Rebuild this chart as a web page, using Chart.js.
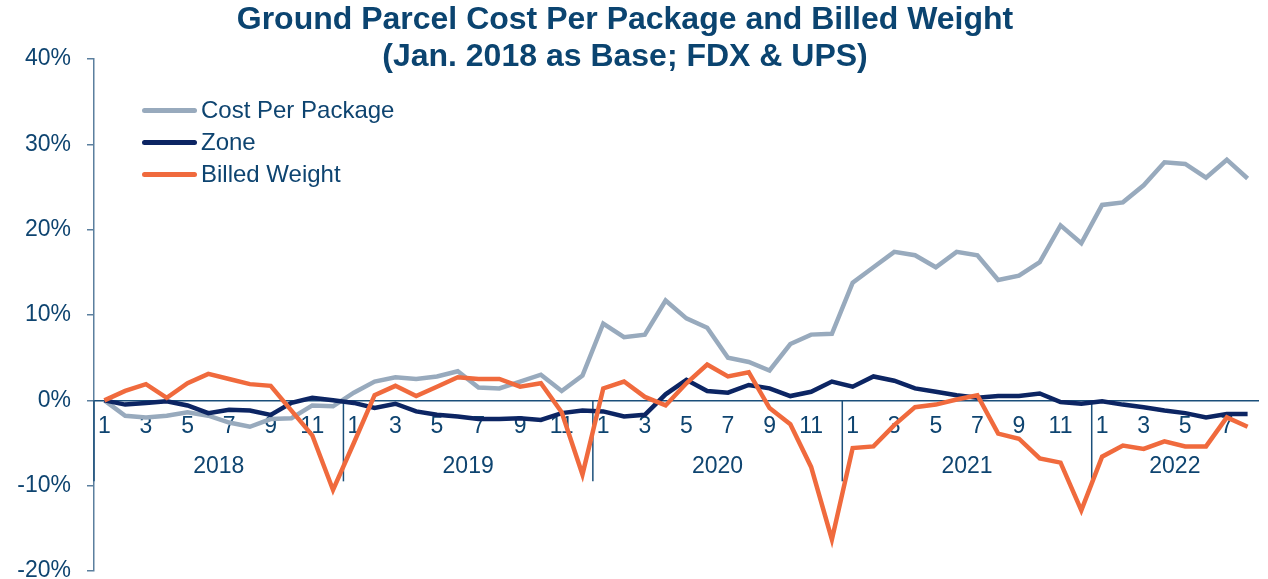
<!DOCTYPE html>
<html>
<head>
<meta charset="utf-8">
<script src="https://cdn.jsdelivr.net/npm/chart.js@4.4.1/dist/chart.umd.min.js"></script>
<style>
    body { margin: 0; background: #fff; }
    #wrap { position: relative; width: 1268px; height: 579px; font-family: "Liberation Sans", Arial, sans-serif; }
    #title {
        position: absolute; left: 0; top: 0; width: 1250px; text-align: center;
        font-weight: bold; font-size: 32px; line-height: 37px; color: #0B4470;
    }
    #legend { position: absolute; left: 142px; top: 94px; font-size: 24px; color: #0E4470; }
    #legend .row { display: flex; align-items: center; height: 32px; }
    #legend .sw { width: 55px; height: 5px; border-radius: 3px; margin-right: 4px; }
</style>
</head>
<body>
<div id="wrap">
    <canvas id="c" width="1268" height="579"></canvas>
    <div id="title">Ground Parcel Cost Per Package and Billed Weight<br>(Jan. 2018 as Base; FDX &amp; UPS)</div>
    <div id="legend"></div>
</div>
<script>
// years on the axis, and how many months of each are in the data
const years = ['2018', '2019', '2020', '2021', '2022'];
const monthsPerYear = [12, 12, 12, 12, 8];

// % change vs Jan. 2018
const costPerPackage = [
    0, -1.8, -2.0, -1.8, -1.4, -1.8, -2.6, -3.1, -2.2, -2.1, -0.6, -0.7,
    0.9, 2.2, 2.7, 2.5, 2.8, 3.4, 1.5, 1.4, 2.2, 3.0, 1.1, 2.9,
    9.0, 7.4, 7.7, 11.7, 9.6, 8.5, 5.0, 4.5, 3.5, 6.6, 7.7, 7.8,
    13.8, 15.6, 17.4, 17.0, 15.6, 17.4, 17.0, 14.1, 14.6, 16.2, 20.5, 18.4,
    22.9, 23.2, 25.2, 27.9, 27.7, 26.1, 28.2, 26.0
];
const zone = [
    0, -0.5, -0.3, -0.1, -0.6, -1.5, -1.1, -1.2, -1.7, -0.3, 0.3, 0,
    -0.3, -0.9, -0.4, -1.3, -1.7, -1.9, -2.2, -2.2, -2.1, -2.3, -1.5, -1.2,
    -1.3, -1.9, -1.7, 0.7, 2.4, 1.1, 0.9, 1.8, 1.4, 0.5, 1.0, 2.2,
    1.6, 2.8, 2.3, 1.4, 1.0, 0.6, 0.3, 0.5, 0.5, 0.8, -0.2, -0.4,
    -0.1, -0.5, -0.8, -1.2, -1.5, -2.0, -1.6, -1.6
];
const billedWeight = [
    0, 1.1, 1.9, 0.3, 2.0, 3.1, 2.5, 1.9, 1.7, -1.2, -4.1, -10.5,
    -5.0, 0.6, 1.7, 0.5, 1.6, 2.7, 2.5, 2.5, 1.6, 2.0, -1.4, -8.7,
    1.4, 2.2, 0.4, -0.6, 2.0, 4.2, 2.8, 3.3, -0.9, -2.8, -7.8, -16.3,
    -5.6, -5.4, -2.9, -0.8, -0.5, 0.1, 0.6, -3.9, -4.5, -6.8, -7.3, -12.9,
    -6.6, -5.3, -5.7, -4.8, -5.4, -5.4, -2.0, -3.1
];

// month tick labels: 1..12 per year
let labels = [];
years.forEach((y, i) => {
    for (let m = 1; m <= monthsPerYear[i]; m++) labels.push(String(m));
});

const TEXT = '#0E4470';
const AXIS = '#1B4F7A';
const FONT = '"Liberation Sans", Arial, sans-serif';

const series = [
    {label: 'Cost Per Package', data: costPerPackage, color: '#98AABD', order: 3},
    {label: 'Zone', data: zone, color: '#0C2563', order: 2},
    {label: 'Billed Weight', data: billedWeight, color: '#F06A3D', order: 1},
];

// legend (html)
let lg = document.getElementById('legend');
series.forEach((s) => {
    let row = document.createElement('div');
    row.className = 'row';
    row.innerHTML = `<span class="sw" style="background:${s.color}"></span><span>${s.label}</span>`;
    lg.appendChild(row);
});

// year separators + year names under the month ticks
const yearBands = {
    id: 'yearBands',
    beforeDatasetsDraw(chart) {
        let ctx = chart.ctx;
        let x = chart.scales.x, y = chart.scales.y;
        let y0 = y.getPixelForValue(0);
        let step = x.getPixelForValue(1) - x.getPixelForValue(0);
        ctx.save();
        ctx.strokeStyle = AXIS;
        ctx.lineWidth = 1.5;
        ctx.fillStyle = TEXT;
        ctx.font = `23px ${FONT}`;
        ctx.textAlign = 'center';
        ctx.textBaseline = 'middle';
        let start = 0;
        years.forEach((yr, i) => {
            let end = start + monthsPerYear[i] - 1;
            let left = x.getPixelForValue(start) - step / 2;
            ctx.beginPath();
            ctx.moveTo(left, y0);
            ctx.lineTo(left, y0 + 81);
            ctx.stroke();
            let cx = (x.getPixelForValue(start) + x.getPixelForValue(end)) / 2;
            ctx.fillText(yr, cx, y0 + 66);
            start = end + 1;
        });
        ctx.restore();
    }
};

new Chart(document.getElementById('c'), {
    type: 'line',
    data: {
        labels: labels,
        datasets: series.map((s) => ({
            label: s.label,
            data: s.data,
            borderColor: s.color,
            backgroundColor: s.color,
            borderWidth: 4.5,
            pointRadius: 0,
            tension: 0,
            order: s.order,
        })),
    },
    options: {
        responsive: false,
        animation: false,
        layout: {padding: {top: 59, right: 10, bottom: 8, left: 0}},
        plugins: {
            legend: {display: false},
            title: {display: false},
            tooltip: {enabled: false},
        },
        scales: {
            x: {
                type: 'category',
                position: {y: 0},
                offset: true,
                // axis sits on the 0 line, so it should not reserve room below the plot
                afterFit: (scale) => { scale.height = 0; },
                grid: {drawOnChartArea: false, drawTicks: false, offset: true},
                border: {color: AXIS, width: 1.5},
                ticks: {
                    autoSkip: false,
                    maxRotation: 0,
                    padding: 13,
                    color: TEXT,
                    font: {family: FONT, size: 23},
                    callback: function (v, i) {
                        let m = Number(labels[i]);
                        return m % 2 === 1 ? labels[i] : '';
                    },
                },
            },
            y: {
                min: -20,
                max: 40,
                // fixed width, and no extra room above/below for the end labels
                afterFit: (scale) => {
                    scale.width = 94;
                    scale.paddingTop = 0;
                    scale.paddingBottom = 0;
                },
                grid: {drawOnChartArea: false, drawTicks: true, tickLength: 7, color: '#5B7F9E', lineWidth: 1.5},
                border: {color: '#5B7F9E', width: 1.5},
                ticks: {
                    stepSize: 10,
                    padding: 16,
                    color: TEXT,
                    font: {family: FONT, size: 23},
                    callback: (v) => v + '%',
                },
            },
        },
    },
    plugins: [yearBands],
});
</script>
</body>
</html>
